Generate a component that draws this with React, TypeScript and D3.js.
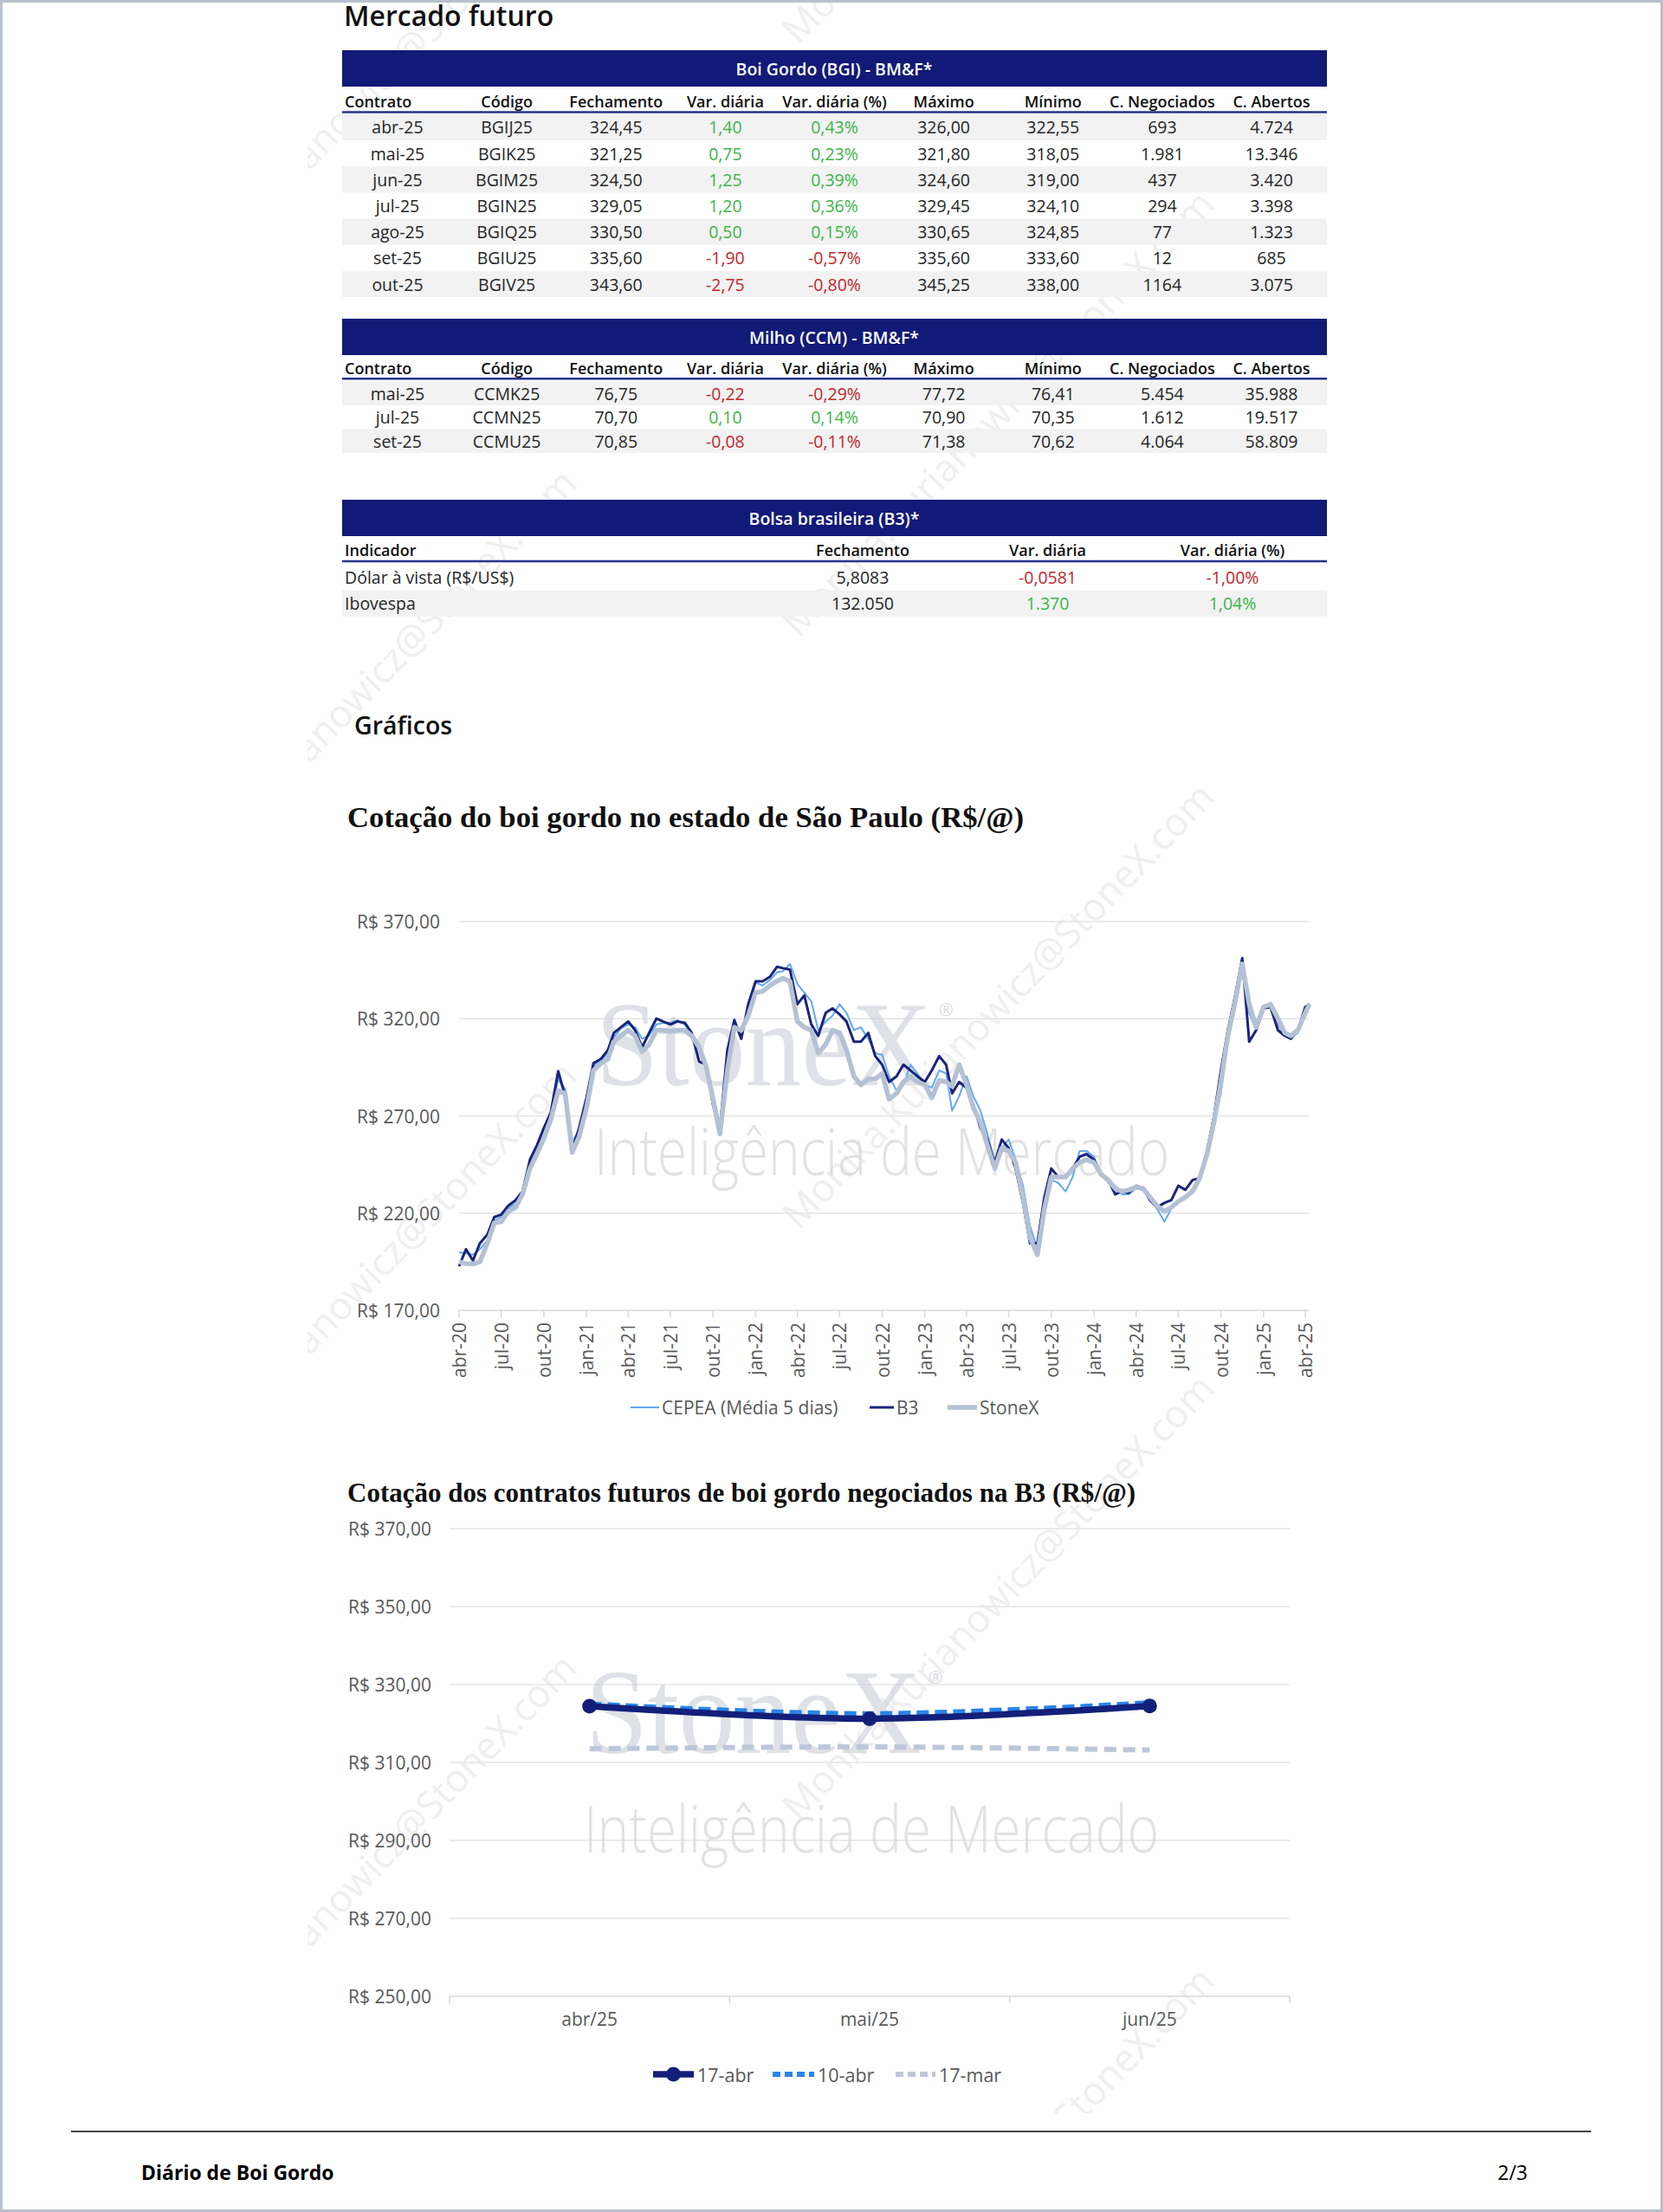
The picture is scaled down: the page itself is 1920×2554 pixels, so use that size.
import React from 'react';
import * as d3 from 'd3';

const SANS = '"Open Sans", "Noto Sans", Arial, sans-serif';
const SERIF = '"Liberation Serif", "DejaVu Serif", serif';
const NAVY = '#111a76';
const GREEN = '#3db54a';
const RED = '#c1272d';
const AXIS_TXT = '#595959';

// ---------- Mercado futuro: Boi Gordo ----------
const colunasFuturo = ['Contrato', 'Código', 'Fechamento', 'Var. diária', 'Var. diária (%)', 'Máximo', 'Mínimo', 'C. Negociados', 'C. Abertos'];
const boiContratos = ['abr-25', 'mai-25', 'jun-25', 'jul-25', 'ago-25', 'set-25', 'out-25'];
const boiCodigos = ['BGIJ25', 'BGIK25', 'BGIM25', 'BGIN25', 'BGIQ25', 'BGIU25', 'BGIV25'];
const boiFechamento = ['324,45', '321,25', '324,50', '329,05', '330,50', '335,60', '343,60'];
const boiVar = ['1,40', '0,75', '1,25', '1,20', '0,50', '-1,90', '-2,75'];
const boiVarPct = ['0,43%', '0,23%', '0,39%', '0,36%', '0,15%', '-0,57%', '-0,80%'];
const boiMax = ['326,00', '321,80', '324,60', '329,45', '330,65', '335,60', '345,25'];
const boiMin = ['322,55', '318,05', '319,00', '324,10', '324,85', '333,60', '338,00'];
const boiNegociados = ['693', '1.981', '437', '294', '77', '12', '1164'];
const boiAbertos = ['4.724', '13.346', '3.420', '3.398', '1.323', '685', '3.075'];

// ---------- Milho ----------
const milhoContratos = ['mai-25', 'jul-25', 'set-25'];
const milhoCodigos = ['CCMK25', 'CCMN25', 'CCMU25'];
const milhoFechamento = ['76,75', '70,70', '70,85'];
const milhoVar = ['-0,22', '0,10', '-0,08'];
const milhoVarPct = ['-0,29%', '0,14%', '-0,11%'];
const milhoMax = ['77,72', '70,90', '71,38'];
const milhoMin = ['76,41', '70,35', '70,62'];
const milhoNegociados = ['5.454', '1.612', '4.064'];
const milhoAbertos = ['35.988', '19.517', '58.809'];

// ---------- Bolsa brasileira ----------
const colunasBolsa = ['Indicador', 'Fechamento', 'Var. diária', 'Var. diária (%)'];
const bolsaIndicadores = ['Dólar à vista (R$/US$)', 'Ibovespa'];
const bolsaFechamento = ['5,8083', '132.050'];
const bolsaVar = ['-0,0581', '1.370'];
const bolsaVarPct = ['-1,00%', '1,04%'];

// ---------- Cotação do boi gordo SP (quinzenal, abr/20 a abr/25) ----------
const datas = d3.range(121)
  .map(i => new Date(2020, 3 + Math.floor(i / 2), i % 2 ? 16 : 1))
  .concat([new Date(2025, 3, 10)]);

const cepea = [
  200.0, 199.3, 198.6, 201.5, 206.0, 216.0, 218.0, 222.3, 225.0, 230.5, 246.0, 253.4, 261.6, 271.2, 289.0, 283.8, 257.1, 262.3,
  277.9, 295.6, 298.6, 302.3, 310.4, 314.9, 317.1, 315.6, 309.7, 311.2, 317.1, 317.9, 317.9, 319.3, 317.1, 312.7, 306.7, 296.4, 281.6, 265.3, 299.3, 317.1, 314.1, 324.5,
  338.6, 337.1, 340.0, 343.8, 344.5, 348.2, 337.9, 333.4, 329.0, 314.1, 318.6, 321.6, 327.5, 323.0, 314.1, 315.6, 309.7, 302.3, 301.5, 290.4, 283.0, 286.0, 296.4, 291.9,
  286.0, 284.5, 293.4, 291.9, 272.7, 280.1, 290.4, 280.1, 272.7, 260.8, 246.0, 253.4, 257.9, 247.5, 234.1, 213.4, 201.5, 219.3, 237.1, 235.6, 231.2, 238.6, 252.0, 252.0,
  249.0, 240.1, 235.6, 234.1, 229.7, 229.7, 232.7, 232.0, 226.7, 222.3, 215.6, 222.3, 225.3, 228.2, 232.7, 238.6, 249.0, 266.7, 281.6, 309.7, 329.0, 349.7, 323.0, 314.1,
  324.5, 327.5, 317.1, 311.2, 310.4, 312.7, 321.6, 326.7,
];
const b3 = [
  192.7, 201.5, 195.6, 204.5, 209.0, 218.0, 219.3, 223.8, 226.7, 231.2, 247.5, 254.9, 263.8, 271.9, 293.0, 280.1, 252.7, 263.8,
  279.3, 297.1, 299.3, 303.8, 312.7, 315.6, 318.6, 314.1, 305.3, 312.7, 320.1, 318.5, 317.1, 318.6, 317.9, 312.7, 298.0, 296.4, 275.6, 263.8, 303.8, 319.3, 309.7, 327.5,
  339.3, 339.3, 341.6, 346.7, 346.0, 345.3, 327.5, 332.0, 317.1, 311.2, 323.0, 325.3, 322.3, 318.6, 308.2, 308.2, 312.7, 300.8, 296.4, 287.5, 290.4, 296.4, 293.4, 290.4,
  287.5, 293.4, 300.8, 296.4, 281.6, 287.5, 284.5, 275.6, 263.8, 257.9, 246.0, 257.9, 253.4, 243.0, 225.3, 204.5, 204.5, 228.2, 243.0, 238.6, 238.6, 243.0, 249.0, 250.4,
  247.5, 240.1, 237.1, 229.7, 231.2, 230.5, 234.1, 232.7, 226.7, 223.0, 225.3, 226.7, 234.1, 232.0, 237.1, 237.9, 252.0, 269.7, 293.4, 314.1, 332.0, 351.2, 308.2, 314.1,
  325.3, 326.0, 314.1, 311.2, 309.7, 314.1, 326.0, 327.5,
];
const stonex = [
  195.0, 194.0, 193.9, 195.0, 204.5, 215.0, 215.6, 220.8, 223.0, 229.7, 243.0, 250.4, 258.5, 268.2, 283.0, 281.6, 251.2, 259.3,
  274.1, 293.4, 297.1, 299.3, 308.2, 311.2, 314.1, 311.2, 303.0, 306.7, 314.1, 314.1, 313.4, 314.1, 314.1, 311.2, 305.3, 295.6, 278.6, 260.8, 293.4, 315.6, 314.1, 321.6,
  333.4, 334.1, 337.1, 339.3, 340.8, 339.3, 318.6, 315.6, 314.1, 302.3, 306.7, 314.1, 312.7, 303.8, 290.4, 286.0, 289.0, 289.0, 291.9, 278.6, 281.6, 287.5, 290.4, 287.5,
  286.0, 279.3, 288.2, 287.5, 285.3, 296.4, 286.0, 274.1, 266.7, 254.9, 243.0, 253.4, 252.0, 246.0, 228.2, 207.5, 198.6, 222.3, 238.6, 238.6, 238.6, 243.0, 246.0, 247.5,
  246.0, 240.1, 237.1, 232.7, 231.2, 232.0, 233.4, 232.7, 228.2, 223.8, 220.8, 223.0, 226.0, 228.2, 231.2, 237.9, 250.4, 266.7, 287.5, 311.2, 329.0, 348.2, 327.5, 315.6,
  326.0, 327.5, 320.1, 312.7, 311.2, 314.1, 323.0, 327.5,
];
const ticksCotacao = [170, 220, 270, 320, 370];

// ---------- Contratos futuros B3 ----------
const futContratos = ['abr/25', 'mai/25', 'jun/25'];
const serie17abr = [324.45, 321.25, 324.5];
const serie10abr = [325.0, 322.5, 325.3];
const serie17mar = [313.5, 314.0, 313.2];
const ticksFuturos = [250, 270, 290, 310, 330, 350, 370];

const mesesPt = ['jan', 'fev', 'mar', 'abr', 'mai', 'jun', 'jul', 'ago', 'set', 'out', 'nov', 'dez'];
const ptBR = d3.formatLocale({ decimal: ',', thousands: '.', grouping: [3], currency: ['R$ ', ''] });
const fmtReal = ptBR.format('$,.2f');

// ---------- helpers ----------
type TableProps = {
  title: string; top: number; barH: number; headY: number; lineY: number;
  rowTop: number; rowH: number; columns: string[]; rows: string[][];
  colX: (c: string) => number; shaded: (i: number) => boolean;
  firstLeft?: boolean; signCols: number[];
};

function Table(p: TableProps) {
  const yRow = d3.scaleBand<number>()
    .domain(d3.range(p.rows.length))
    .range([p.rowTop, p.rowTop + p.rowH * p.rows.length]);
  return (
    <g>
      <rect x={395} y={p.top} width={1137} height={p.barH} fill={NAVY} />
      <text x={963} y={p.top + p.barH / 2} textAnchor="middle" dominantBaseline="central"
        fill="#fff" fontSize={19.5} fontWeight={600}>{p.title}</text>
      {p.columns.map((c, j) => (
        <text key={c} x={j === 0 ? 398 : p.colX(c)} y={p.headY} textAnchor={j === 0 ? 'start' : 'middle'}
          dominantBaseline="central" fontSize={18} fontWeight={600} fill="#111">{c}</text>
      ))}
      <line x1={395} x2={1532} y1={p.lineY} y2={p.lineY} stroke="#28328a" strokeWidth={2.5} />
      {p.rows.map((r, i) => (
        <g key={i}>
          {p.shaded(i) && <rect x={395} y={yRow(i)} width={1137} height={yRow.bandwidth()} fill="#f2f2f2" />}
          {r.map((v, j) => {
            const left = j === 0 && p.firstLeft;
            const fill = p.signCols.includes(j) ? (v.startsWith('-') ? RED : GREEN) : '#262626';
            return (
              <text key={j} x={left ? 398 : p.colX(p.columns[j])} y={(yRow(i) as number) + yRow.bandwidth() / 2}
                textAnchor={left ? 'start' : 'middle'} dominantBaseline="central" fontSize={19.5} fill={fill}>{v}</text>
            );
          })}
        </g>
      ))}
    </g>
  );
}

function Marca({ stoneY, intY }: { stoneY: number; intY: number }) {
  return (
    <g>
      <text x={688} y={stoneY} fontFamily={SERIF} fontSize={140} fill="#c9ced6" opacity={0.6}
        textLength={388} lengthAdjust="spacingAndGlyphs">StoneX</text>
      <text x={1084} y={stoneY - 80} fontFamily={SANS} fontSize={20} fill="#c9ced6" opacity={0.7}>®</text>
      <text x={686} y={intY} fontFamily={SANS} fontWeight={300} fontSize={76} fill="#d6d6d6" opacity={0.7}
        textLength={664} lengthAdjust="spacingAndGlyphs">Inteligência de Mercado</text>
    </g>
  );
}

const emailPos = [
  [415, 114], [415, 798], [415, 1482], [415, 2166],
  [1151, -208], [1151, 476], [1151, 1160], [1151, 1843], [1151, 2527],
];

function ChartCotacao() {
  const x = d3.scaleTime().domain([new Date(2020, 3, 1), new Date(2025, 3, 1)]).range([530, 1507]);
  const y = d3.scaleLinear().domain([170, 370]).range([1513, 1064]);
  const ticksX = d3.timeMonth.every(3)!.range(new Date(2020, 3, 1), new Date(2025, 3, 2));
  const line = d3.line<number>().x((_, i) => x(datas[i])).y(v => y(v));
  const series = [
    { name: 'CEPEA (Média 5 dias)', vals: cepea, color: '#62a9f0', w: 2, lx: 728, tx: 764 },
    { name: 'B3', vals: b3, color: '#1a2479', w: 3, lx: 1004, tx: 1035 },
    { name: 'StoneX', vals: stonex, color: '#b4c1d4', w: 5.5, lx: 1094, tx: 1131 },
  ];
  return (
    <g>
      <text x={401} y={955} fontFamily={SERIF} fontWeight={700} fontSize={34.7} fill="#111">
        Cotação do boi gordo no estado de São Paulo (R$/@)
      </text>
      {ticksCotacao.map(t => (
        <g key={t}>
          <line x1={530} x2={1511} y1={y(t)} y2={y(t)} stroke={t === 170 ? '#d9d9d9' : '#e4e4e4'} strokeWidth={1.5} />
          <text x={508} y={y(t)} textAnchor="end" dominantBaseline="central" fontSize={21} fill={AXIS_TXT}>{fmtReal(t)}</text>
        </g>
      ))}
      <Marca stoneY={1253} intY={1357} />
      {ticksX.map(d => (
        <g key={+d}>
          <line x1={x(d)} x2={x(d)} y1={1513} y2={1521} stroke="#d9d9d9" strokeWidth={1.5} />
          <text transform={`translate(${x(d)},1527) rotate(-90)`} textAnchor="end" dominantBaseline="central"
            fontSize={21} fill={AXIS_TXT}>{`${mesesPt[d.getMonth()]}-${String(d.getFullYear()).slice(2)}`}</text>
        </g>
      ))}
      {series.map(s => (
        <path key={s.name} d={line(s.vals) || ''} fill="none" stroke={s.color} strokeWidth={s.w} strokeLinejoin="round" />
      ))}
      {series.map(s => (
        <g key={s.name + 'l'}>
          <line x1={s.lx} x2={s.tx - 3} y1={1625} y2={1625} stroke={s.color} strokeWidth={s.w} />
          <text x={s.tx} y={1625} dominantBaseline="central" fontSize={21} fill={AXIS_TXT}>{s.name}</text>
        </g>
      ))}
    </g>
  );
}

function ChartFuturos() {
  const x = d3.scaleBand().domain(futContratos).range([519, 1489]);
  const y = d3.scaleLinear().domain([250, 370]).range([2305, 1765]);
  const cx = (c: string) => (x(c) as number) + x.bandwidth() / 2;
  const line = d3.line<number>().x((_, i) => cx(futContratos[i])).y(v => y(v)).curve(d3.curveCatmullRom.alpha(0.5));
  const series = [
    { name: '17-mar', vals: serie17mar, color: '#bcc8d9', w: 6, dash: '14 8', lx: 1034, tx: 1084 },
    { name: '10-abr', vals: serie10abr, color: '#2a85e8', w: 6, dash: '14 7', lx: 892, tx: 944 },
    { name: '17-abr', vals: serie17abr, color: '#13207a', w: 7.5, dash: undefined, lx: 754, tx: 805 },
  ];
  const bounds = [519, ...futContratos.map(c => (x(c) as number) + x.bandwidth())];
  return (
    <g>
      <text x={401} y={1734} fontFamily={SERIF} fontWeight={700} fontSize={31} fill="#111">
        Cotação dos contratos futuros de boi gordo negociados na B3 (R$/@)
      </text>
      {ticksFuturos.map(t => (
        <g key={t}>
          <line x1={519} x2={1489} y1={y(t)} y2={y(t)} stroke={t === 250 ? '#d9d9d9' : '#e4e4e4'} strokeWidth={1.5} />
          <text x={498} y={y(t)} textAnchor="end" dominantBaseline="central" fontSize={21} fill={AXIS_TXT}>{fmtReal(t)}</text>
        </g>
      ))}
      {bounds.map(b => <line key={b} x1={b} x2={b} y1={2305} y2={2313} stroke="#d9d9d9" strokeWidth={1.5} />)}
      {futContratos.map(c => (
        <text key={c} x={cx(c)} y={2331} textAnchor="middle" dominantBaseline="central" fontSize={21} fill={AXIS_TXT}>{c}</text>
      ))}
      <g transform="translate(-12, 674)"><Marca stoneY={1350} intY={1465} /></g>
      {series.map(s => (
        <path key={s.name} d={line(s.vals) || ''} fill="none" stroke={s.color} strokeWidth={s.w}
          strokeDasharray={s.dash} strokeLinecap={s.dash ? 'butt' : 'round'} />
      ))}
      {serie17abr.map((v, i) => <circle key={i} cx={cx(futContratos[i])} cy={y(v)} r={8.5} fill="#13207a" />)}
      {series.map(s => (
        <g key={s.name + 'l'}>
          <line x1={s.lx} x2={s.tx - 4} y1={2395} y2={2395} stroke={s.color} strokeWidth={s.w} strokeDasharray={s.dash ? '9 5' : undefined} />
          {!s.dash && <circle cx={(s.lx + s.tx - 4) / 2} cy={2395} r={8.5} fill={s.color} />}
          <text x={s.tx} y={2395} dominantBaseline="central" fontSize={21.5} fill={AXIS_TXT}>{s.name}</text>
        </g>
      ))}
    </g>
  );
}

export default function App() {
  const colFut = d3.scalePoint<string>().domain(colunasFuturo).range([459, 1468]);
  const colBolsa = d3.scalePoint<string>().domain(colunasBolsa.slice(1)).range([996, 1423]);
  const boiRows = boiContratos.map((c, i) => [c, boiCodigos[i], boiFechamento[i], boiVar[i], boiVarPct[i], boiMax[i], boiMin[i], boiNegociados[i], boiAbertos[i]]);
  const milhoRows = milhoContratos.map((c, i) => [c, milhoCodigos[i], milhoFechamento[i], milhoVar[i], milhoVarPct[i], milhoMax[i], milhoMin[i], milhoNegociados[i], milhoAbertos[i]]);
  const bolsaRows = bolsaIndicadores.map((c, i) => [c, bolsaFechamento[i], bolsaVar[i], bolsaVarPct[i]]);

  return (
    <svg width={1920} height={2554} style={{ position: 'absolute', left: 0, top: 0, background: '#fff' }} fontFamily={SANS}>
      <rect x={0} y={0} width={1920} height={2554} fill="#fff" />
      <defs>
        <clipPath id="wm"><rect x={355} y={0} width={1086} height={2440} /></clipPath>
      </defs>
      <g clipPath="url(#wm)">
        {emailPos.map(([cx, cy], i) => (
          <text key={i} transform={`translate(${cx},${cy}) rotate(-46)`} textAnchor="middle" dominantBaseline="central"
            fontSize={44} fill="#dcdcdc" opacity={0.45}>Monika.Kurianowicz@StoneX.com</text>
        ))}
      </g>

      <text x={397} y={30} fontSize={32} fontWeight={600} fill="#111">Mercado futuro</text>

      <Table title="Boi Gordo (BGI) - BM&F*" top={58} barH={42} headY={117} lineY={129.5}
        rowTop={131.7} rowH={30.2} columns={colunasFuturo} rows={boiRows} colX={c => colFut(c) as number}
        shaded={i => i % 2 === 0} signCols={[3, 4]} />
      <Table title="Milho (CCM) - BM&F*" top={368} barH={42} headY={425} lineY={437.3}
        rowTop={440.5} rowH={27.5} columns={colunasFuturo} rows={milhoRows} colX={c => colFut(c) as number}
        shaded={i => i % 2 === 0} signCols={[3, 4]} />
      <Table title="Bolsa brasileira (B3)*" top={577} barH={42} headY={635} lineY={648}
        rowTop={651.7} rowH={30} columns={colunasBolsa} rows={bolsaRows} colX={c => colBolsa(c) as number}
        shaded={i => i % 2 === 1} firstLeft signCols={[2, 3]} />

      <text x={409} y={848} fontSize={28.5} fontWeight={600} fill="#111">Gráficos</text>

      <ChartCotacao />
      <ChartFuturos />

      <line x1={82} x2={1837} y1={2461} y2={2461} stroke="#000" strokeWidth={1.5} />
      <text x={163} y={2508} dominantBaseline="central" fontSize={23} fontWeight={700} fill="#000">Diário de Boi Gordo</text>
      <text x={1729} y={2508} dominantBaseline="central" fontSize={23} fill="#000">2/3</text>
      <rect x={1.5} y={1.5} width={1917} height={2551} fill="none" stroke="#b9c0cb" strokeWidth={3} />
    </svg>
  );
}
